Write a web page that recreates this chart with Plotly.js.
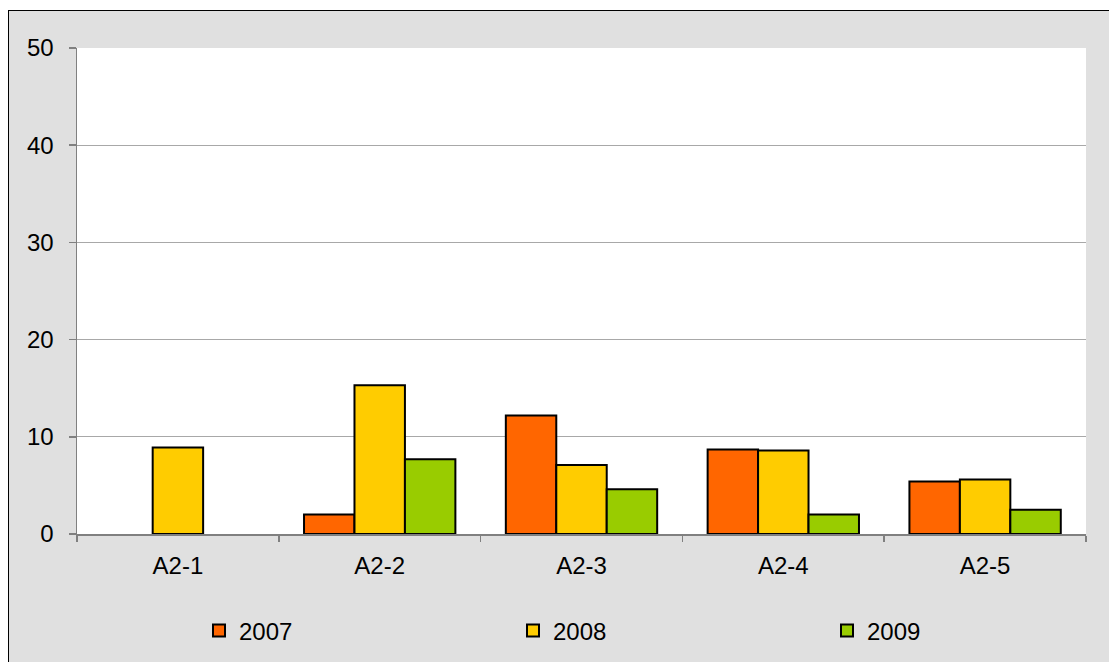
<!DOCTYPE html>
<html>
<head>
<meta charset="utf-8">
<script src="https://cdn.plot.ly/plotly-3.0.1.min.js"></script>
<style>
  html, body { margin: 0; padding: 0; width: 1109px; height: 662px; overflow: hidden; background: #ffffff; }
  #frame { position: absolute; left: 8px; top: 10px; width: 1120px; height: 680px; background: #e0e0e0; border: 1px solid #000000; box-sizing: border-box; }
  #chart { position: absolute; left: 0; top: 0; width: 1109px; height: 662px; }
</style>
</head>
<body>
<div id="frame"></div>
<div id="chart"></div>
<script>
const categories = ["A2-1", "A2-2", "A2-3", "A2-4", "A2-5"];
const seriesNames = ["2007", "2008", "2009"];
const values2007 = [null, 2.0, 12.2, 8.7, 5.4];
const values2008 = [8.9, 15.3, 7.1, 8.6, 5.6];
const values2009 = [null, 7.7, 4.6, 2.0, 2.5];
const colors = ["#FF6600", "#FFCC00", "#99CC00"];
const allValues = [values2007, values2008, values2009];
const legendWidths = [269, 269, 80];

const font = "Liberation Sans, Arial, sans-serif";

const traces = allValues.map((vals, i) => ({
  type: "bar",
  name: seriesNames[i],
  x: categories,
  y: vals,
  legendwidth: legendWidths[i],
  marker: { color: colors[i], line: { color: "#000000", width: 2 } },
  hoverinfo: "x+y+name"
}));

const layout = {
  width: 1109,
  height: 662,
  paper_bgcolor: "rgba(0,0,0,0)",
  plot_bgcolor: "#ffffff",
  margin: { l: 77, r: 23, t: 48, b: 128, pad: 0, autoexpand: false },
  barmode: "group",
  bargap: 0.25,
  bargroupgap: 0,
  font: { family: font, size: 24, color: "#000000" },
  showlegend: true,
  legend: {
    orientation: "h",
    xref: "container",
    yref: "container",
    x: 199 / 1109,
    xanchor: "left",
    y: 1 - 631 / 662,
    yanchor: "middle",
    entrywidthmode: "pixels",
    font: { family: font, size: 24, color: "#000000" },
    bgcolor: "rgba(0,0,0,0)",
    borderwidth: 0,
    traceorder: "normal"
  },
  xaxis: {
    type: "category",
    showline: true,
    linecolor: "#808080",
    linewidth: 1.5,
    ticks: "outside",
    tickson: "boundaries",
    ticklen: 6,
    tickcolor: "#808080",
    tickwidth: 1.5,
    showgrid: false,
    zeroline: false,
    ticklabelstandoff: 10,
    tickfont: { family: font, size: 24, color: "#000000" }
  },
  yaxis: {
    range: [0, 50],
    dtick: 10,
    tick0: 0,
    showline: true,
    linecolor: "#808080",
    linewidth: 1.5,
    ticks: "outside",
    ticklen: 7,
    tickcolor: "#808080",
    tickwidth: 1.5,
    showgrid: true,
    gridcolor: "#a8a8a8",
    gridwidth: 1,
    zeroline: false,
    ticklabelstandoff: 10,
    tickfont: { family: font, size: 24, color: "#000000" }
  }
};

Plotly.newPlot("chart", traces, layout, { displayModeBar: false, staticPlot: true });
</script>
</body>
</html>
